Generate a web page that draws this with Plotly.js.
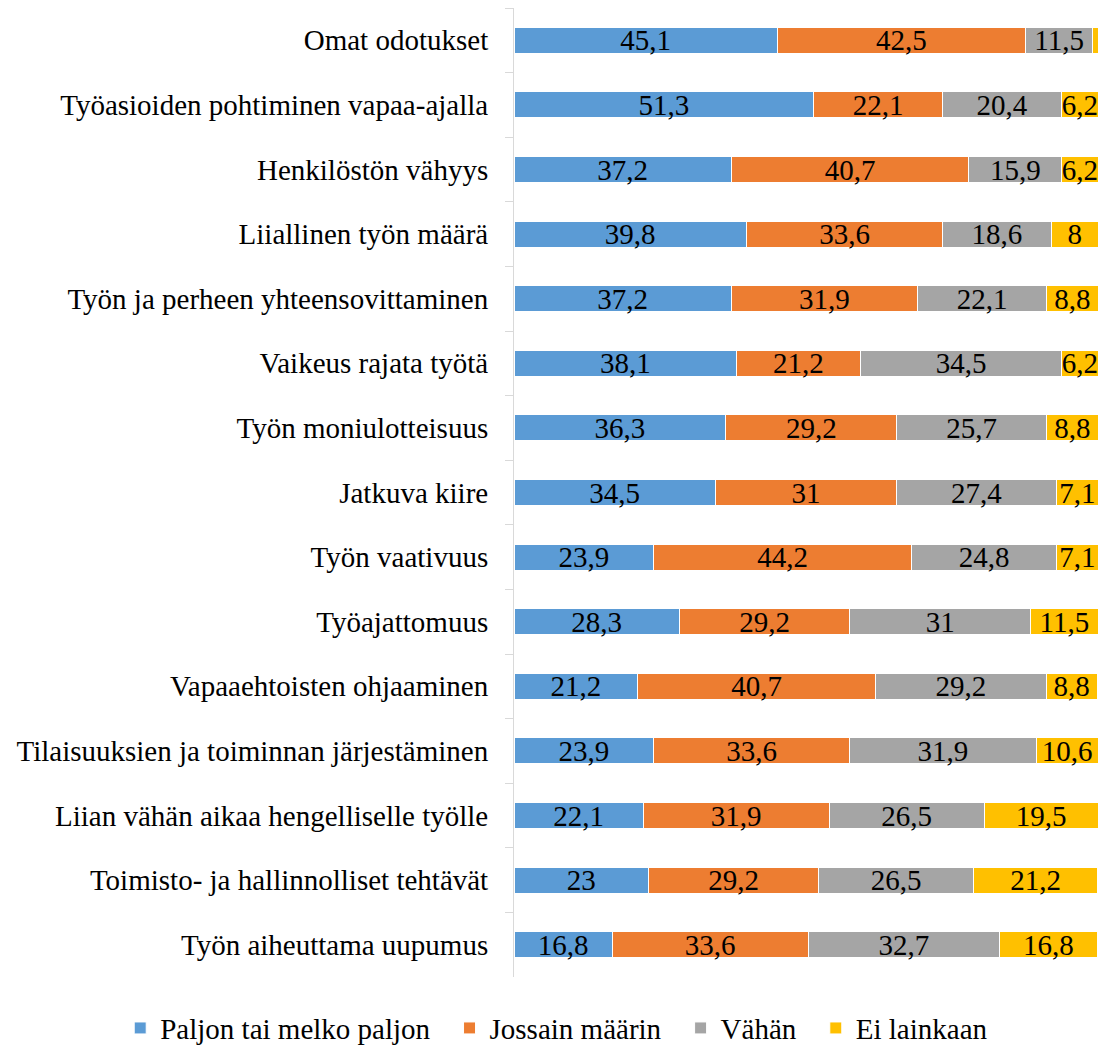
<!DOCTYPE html>
<html>
<head>
<meta charset="utf-8">
<script src="https://cdn.plot.ly/plotly-3.0.1.min.js"></script>
<style>html,body{margin:0;padding:0;background:#fff;}#chart{width:1109px;height:1048px;}</style>
</head>
<body>
<div id="chart"></div>
<script>
const categories = [
  "Omat odotukset",
  "Työasioiden pohtiminen vapaa-ajalla",
  "Henkilöstön vähyys",
  "Liiallinen työn määrä",
  "Työn ja perheen yhteensovittaminen",
  "Vaikeus rajata työtä",
  "Työn moniulotteisuus",
  "Jatkuva kiire",
  "Työn vaativuus",
  "Työajattomuus",
  "Vapaaehtoisten ohjaaminen",
  "Tilaisuuksien ja toiminnan järjestäminen",
  "Liian vähän aikaa hengelliselle työlle",
  "Toimisto- ja hallinnolliset tehtävät",
  "Työn aiheuttama uupumus"
];
const seriesNames = ["Paljon tai melko paljon", "Jossain määrin", "Vähän", "Ei lainkaan"];
const paljon   = [45.1, 51.3, 37.2, 39.8, 37.2, 38.1, 36.3, 34.5, 23.9, 28.3, 21.2, 23.9, 22.1, 23, 16.8];
const jossain  = [42.5, 22.1, 40.7, 33.6, 31.9, 21.2, 29.2, 31, 44.2, 29.2, 40.7, 33.6, 31.9, 29.2, 33.6];
const vahan    = [11.5, 20.4, 15.9, 18.6, 22.1, 34.5, 25.7, 27.4, 24.8, 31, 29.2, 31.9, 26.5, 26.5, 32.7];
const eiLainkaan = [0.9, 6.2, 6.2, 8, 8.8, 6.2, 8.8, 7.1, 7.1, 11.5, 8.8, 10.6, 19.5, 21.2, 16.8];
const colors = ["#5B9BD5", "#ED7D31", "#A5A5A5", "#FFC000"];

const series = [paljon, jossain, vahan, eiLainkaan];
const fmt = v => (v < 2 ? "" : String(v).replace(".", ","));
const FONT = "Liberation Serif, Times New Roman, serif";
const PAD = "\u00a0\u00a0";

const traces = series.map((vals, i) => ({
  type: "bar",
  orientation: "h",
  name: seriesNames[i] + (i < series.length - 1 ? PAD : ""),
  y: categories,
  x: vals,
  text: vals.map(fmt),
  textposition: "inside",
  insidetextanchor: "middle",
  textangle: 0,
  constraintext: "none",
  textfont: {family: FONT, size: 29, color: "#000"},
  hoverinfo: "x+name",
  marker: {color: colors[i], line: {color: "#fff", width: 1}}
}));

// plot area: x from 514 to 1098 px; margins l=10, r=11 -> width 1088
const W = 1109, ML = 10, MR = 11;
const innerW = W - ML - MR;

const layout = {
  width: W,
  height: 1048,
  barmode: "stack",
  bargap: 0.6,
  paper_bgcolor: "#fff",
  plot_bgcolor: "#fff",
  margin: {l: ML, r: MR, t: 8, b: 71},
  font: {family: FONT, size: 29, color: "#000"},
  uniformtext: {mode: "show", minsize: 29},
  showlegend: true,
  xaxis: {range: [0, 100], visible: false, fixedrange: true, domain: [(514 - ML) / innerW, 1]},
  yaxis: {
    type: "category",
    autorange: "reversed",
    automargin: false,
    showline: true,
    linecolor: "#d9d9d9",
    linewidth: 1,
    ticks: "outside",
    tickson: "boundaries",
    ticklen: 8,
    tickcolor: "#d9d9d9",
    ticklabelstandoff: 19,
    showgrid: false,
    zeroline: false,
    tickfont: {family: FONT, size: 29, color: "#000"}
  },
  legend: {
    orientation: "h",
    xref: "container", yref: "container",
    x: 0.502, xanchor: "center",
    y: 0.019, yanchor: "middle",
    font: {family: FONT, size: 29, color: "#000"},
    itemwidth: 30,
    traceorder: "normal"
  }
};

Plotly.newPlot("chart", traces, layout, {displayModeBar: false, staticPlot: true});
</script>
</body>
</html>
